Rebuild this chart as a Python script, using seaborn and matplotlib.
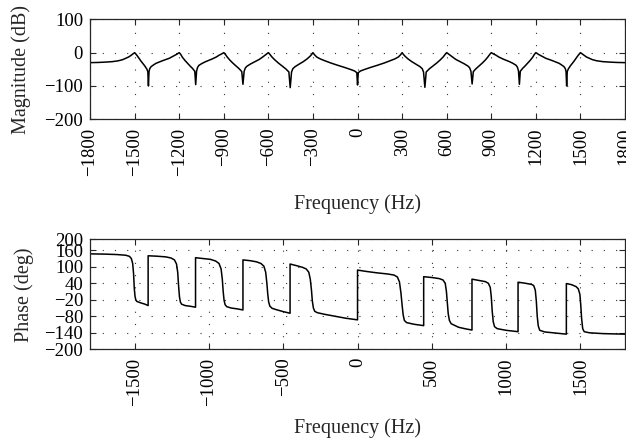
import numpy as np
import pandas as pd
import matplotlib
matplotlib.use("Agg")
import matplotlib.pyplot as plt
import seaborn as sns

# ---------------- data ----------------
mag_freq = [-1800, -1750, -1700, -1650, -1610, -1580, -1560, -1540, -1525, -1512, -1500,
            -1490, -1478, -1456, -1433, -1418, -1411, -1407, -1403, -1398, -1389, -1370, -1356,
            -1311, -1267, -1233, -1215, -1200,
            -1190, -1178, -1160, -1144, -1125, -1111, -1095, -1089, -1083, -1076, -1067, -1045,
            -1022, -978, -950, -933, -915, -900,
            -890, -877, -860, -840, -815, -795, -779, -771, -763, -755, -745, -720, -690, -660,
            -635, -615, -600,
            -590, -576, -556, -533, -505, -482, -462, -453, -444, -435, -420, -395, -365, -340,
            -320, -308, -300,
            -290, -275, -250, -222, -180, -133, -90, -50, -20, -5, 0, 5, 20, 50, 90, 133, 180,
            222, 250, 275, 290, 300,
            308, 320, 340, 365, 395, 420, 435, 444, 453, 462, 482, 505, 533, 556, 576, 590, 600,
            615, 635, 660, 690, 720, 745, 755, 763, 771, 779, 795, 815, 840, 860, 877, 890, 900,
            915, 933, 950, 978, 1022, 1045, 1067, 1076, 1083, 1089, 1095, 1111, 1125, 1144, 1160,
            1178, 1190, 1200,
            1215, 1233, 1267, 1311, 1356, 1370, 1389, 1398, 1403, 1407, 1411, 1418, 1433, 1456,
            1478, 1490, 1500,
            1512, 1525, 1540, 1560, 1580, 1610, 1650, 1700, 1750, 1800]
mag_db = [-30, -29.5, -28.5, -27, -24.5, -21, -17, -13, -8.5, -4, 0,
          -5, -12, -26, -39, -49, -57, -100, -57, -48, -42, -36, -32,
          -24, -17, -9, -4.5, 0,
          -5, -14, -24, -32, -41, -47, -56, -96, -55, -44, -38, -32,
          -27, -19, -13, -8, -4, 0,
          -5, -13, -22, -31, -41, -49, -57, -95, -56, -46, -41, -34, -27, -20,
          -12, -5, 0,
          -5, -13, -22, -31, -41, -49, -58, -105, -58, -48, -42, -35, -27, -19,
          -11, -5, 0,
          -6, -13, -19, -24, -31, -38, -44, -50, -55, -60, -97, -60, -55, -50, -44, -38, -31,
          -24, -19, -13, -6, 0,
          -5, -11, -19, -27, -35, -42, -48, -58, -104, -58, -49, -41, -31, -22, -13, -5, 0,
          -5, -12, -20, -27, -34, -41, -46, -56, -94, -57, -49, -41, -31, -22, -13, -5, 0,
          -4, -8, -13, -19, -27, -32, -38, -44, -55, -95, -56, -47, -41, -32, -24,
          -14, -5, 0,
          -4.5, -9, -17, -24, -32, -36, -42, -48, -57, -100, -57, -49, -39, -26,
          -12, -5, 0,
          -4, -8.5, -13, -17, -21, -24.5, -27, -28.5, -29.5, -30]

phase_freq = [-1800, -1700, -1620, -1560, -1535, -1522, -1513, -1507, -1502, -1497, -1492,
              -1485, -1460, -1430, -1409, -1409,
              -1350, -1290, -1255, -1232, -1218, -1210, -1204, -1198, -1192, -1184, -1160,
              -1120, -1090, -1090,
              -1040, -990, -955, -932, -918, -910, -904, -898, -891, -880, -850, -810, -771, -771,
              -720, -680, -650, -630, -618, -610, -604, -598, -590, -575, -540, -500, -454, -454,
              -410, -370, -345, -328, -318, -310, -304, -297, -288, -270, -220, -150, -80, 0, 0,
              60, 130, 200, 245, 268, 282, 292, 300, 307, 315, 330, 380, 445, 445,
              500, 550, 575, 590, 598, 604, 610, 618, 630, 680, 730, 770, 770,
              820, 860, 880, 893, 900, 906, 913, 922, 940, 1000, 1080, 1080,
              1130, 1170, 1185, 1196, 1203, 1209, 1216, 1226, 1260, 1330, 1405, 1405,
              1440, 1470, 1485, 1496, 1502, 1508, 1515, 1525, 1560, 1650, 1800]
phase_deg = [147, 146, 144.5, 142, 138, 130, 112, 75, 20, -8, -20,
             -26, -31, -36, -41, 140,
             138.5, 136, 132, 125, 110, 80, 30, -10, -28, -36, -41,
             -44, -47, 133,
             130, 127, 121, 112, 92, 55, 10, -22, -38, -45, -50, -53, -57, 125,
             122, 118, 112, 102, 80, 40, 0, -28, -43, -51, -57, -63, -69, 110,
             104, 98, 92, 80, 55, 15, -25, -50, -62, -67, -73, -80, -87, -93, 88,
             83, 78, 74, 70, 63, 45, 5, -40, -75, -95, -103, -109, -114, 64,
             61, 57, 52, 40, 10, -30, -70, -95, -107, -120, -126, -130, 55,
             50, 46, 40, 25, -10, -60, -100, -118, -125, -131, -136, 44,
             40, 36, 32, 15, -25, -80, -115, -131, -137, -141, -145, 39,
             35, 28, 20, 0, -40, -90, -125, -136, -140, -143, -145]

mag_xticks = [-1800, -1500, -1200, -900, -600, -300, 0, 300, 600, 900, 1200, 1500, 1800]
mag_yticks = [100, 0, -100, -200]
phase_xticks = [-1500, -1000, -500, 0, 500, 1000, 1500]
phase_yticks = [200, 160, 100, 40, -20, -80, -140, -200]
xlabel_text = "Frequency (Hz)"
mag_ylabel = "Magnitude (dB)"
phase_ylabel = "Phase (deg)"

# ---------------- style ----------------
sns.set_theme(style="ticks")
plt.rcParams["font.family"] = ["Liberation Serif", "DejaVu Serif"]
plt.rcParams["axes.unicode_minus"] = True
plt.rcParams["axes.edgecolor"] = "0.15"
plt.rcParams["axes.linewidth"] = 0.9

mag_df = pd.DataFrame({"freq": mag_freq, "db": mag_db})
ph_df = pd.DataFrame({"freq": phase_freq, "deg": phase_deg})

fig = plt.figure(figsize=(6.26, 4.47), dpi=100)
ax1 = fig.add_axes([0.1438, 0.7331, 0.8547, 0.2237])
ax2 = fig.add_axes([0.1438, 0.2186, 0.8547, 0.2461])

sns.lineplot(data=mag_df, x="freq", y="db", ax=ax1, color="black", linewidth=1.1,
             estimator=None, sort=False)
sns.lineplot(data=ph_df, x="freq", y="deg", ax=ax2, color="black", linewidth=1.1,
             estimator=None, sort=False)

tick_fs = 13.5
label_fs = 14.5
grid_ls = (0, (1, 10))

for ax in (ax1, ax2):
    ax.set_xlim(-1800, 1800)
    ax.grid(True, linestyle=grid_ls, color="0.2", linewidth=0.8)
    ax.tick_params(direction="in", top=True, right=True, length=4, width=0.8,
                   colors="0.15", labelsize=tick_fs, labelcolor="black")
    ax.tick_params(axis="x", pad=6)
    ax.tick_params(axis="y", pad=5)
    for s in ax.spines.values():
        s.set_visible(True)

ax1.set_ylim(-200, 100)
ax1.set_xticks(mag_xticks)
ax1.set_xticklabels([f"{t}".replace("-", "\u2212") for t in mag_xticks], rotation=90)
ax1.set_yticks(mag_yticks)
ax1.set_yticklabels([f"{t}".replace("-", "\u2212") for t in mag_yticks])

ax2.set_ylim(-200, 200)
ax2.set_xticks(phase_xticks)
ax2.set_xticklabels([f"{t}".replace("-", "\u2212") for t in phase_xticks], rotation=90)
ax2.set_yticks(phase_yticks)
ax2.set_yticklabels([f"{t}".replace("-", "\u2212") for t in phase_yticks])

ax1.set_xlabel(xlabel_text, fontsize=label_fs, va="center")
ax1.xaxis.set_label_coords(0.5, -0.85)
ax1.set_ylabel(mag_ylabel, fontsize=label_fs, va="center")
ax1.yaxis.set_label_coords(-0.128, 0.5)

ax2.set_xlabel(xlabel_text, fontsize=label_fs, va="center")
ax2.xaxis.set_label_coords(0.5, -0.715)
ax2.set_ylabel(phase_ylabel, fontsize=label_fs, va="center")
ax2.yaxis.set_label_coords(-0.123, 0.5)

fig.savefig("out.png", dpi=100)
